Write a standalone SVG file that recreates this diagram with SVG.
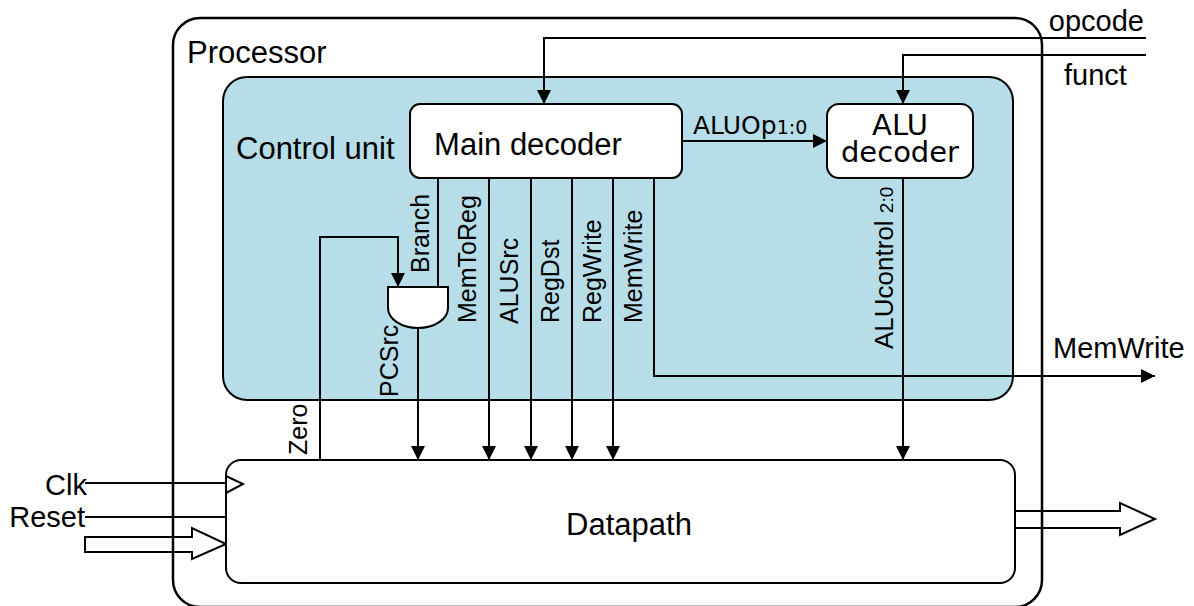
<svg xmlns="http://www.w3.org/2000/svg" width="1194" height="606" viewBox="0 0 1194 606">
  <style>
    .box { fill: #ffffff; stroke: #000000; stroke-width: 2; }
    .frame { fill: none; stroke: #000000; stroke-width: 2.5; }
    .cu { fill: #b6dde8; stroke: #000000; stroke-width: 2; }
    .wire { fill: none; stroke: #000000; stroke-width: 2; }
    .arr { fill: none; stroke: #000000; stroke-width: 2; marker-end: url(#head); }
    .bus { fill: none; stroke: #000000; stroke-width: 2; stroke-linejoin: miter; }
    .t { font-family: "Liberation Sans", Arial, sans-serif; fill: #000000; }
    .d { font-family: "DejaVu Sans", sans-serif; fill: #000000; }
    .lbl { font-size: 25px; }
    .big { font-size: 31px; }
    .sig { font-size: 29px; }
  </style>
  <defs>
    <marker id="head" markerUnits="userSpaceOnUse" viewBox="0 0 14 14" refX="14" refY="7" markerWidth="14" markerHeight="14" orient="auto">
      <path d="M0,0 L14,7 L0,14 Z" fill="#000000"/>
    </marker>
  </defs>

  <!-- processor background -->
  <rect x="173" y="18" width="869" height="589" rx="27" fill="#ffffff"/>

  <!-- control unit -->
  <g id="control-unit">
    <rect class="cu" x="223" y="77" width="790" height="323" rx="24"/>
    <text class="t big" x="236" y="159">Control unit</text>
  </g>

  <!-- connectors -->
  <g id="connectors">
    <!-- opcode into main decoder -->
    <path class="arr" d="M1146,38 H544 V104"/>
    <!-- funct into ALU decoder -->
    <path class="arr" d="M1146,55 H903 V104"/>
    <!-- ALUOp -->
    <path class="arr" d="M682,141 H827"/>
    <!-- Branch into AND gate -->
    <path class="wire" d="M438,178 V287"/>
    <!-- Zero from datapath into AND gate -->
    <path class="arr" d="M320,460 V237 H398 V287"/>
    <!-- PCSrc -->
    <path class="arr" d="M418,328 V460"/>
    <!-- control signals into datapath -->
    <path class="arr" d="M489,178 V460"/>
    <path class="arr" d="M531,178 V460"/>
    <path class="arr" d="M572,178 V460"/>
    <path class="arr" d="M613,178 V460"/>
    <!-- MemWrite out -->
    <path class="arr" d="M654,178 V376 H1155"/>
    <!-- ALUcontrol -->
    <path class="arr" d="M903,178 V460"/>
    <!-- Clk / Reset -->
    <path class="wire" d="M85,483 H226"/>
    <path class="wire" d="M85,517 H226"/>
    <!-- input bus -->
    <path class="bus" d="M85,537 H192 V528 L226,544 L192,559 V552 H85 Z"/>
    <!-- output bus -->
    <path class="bus" d="M1015,511 H1120 V503 L1155,519 L1120,535 V528 H1015"/>
  </g>

  <!-- processor frame -->
  <g id="processor">
    <rect class="frame" x="173" y="18" width="869" height="589" rx="27"/>
    <text class="t big" x="187" y="63">Processor</text>
  </g>

  <g id="main-decoder">
    <rect class="box" x="410" y="104" width="272" height="74" rx="10"/>
    <text class="t big" x="528" y="155" text-anchor="middle">Main decoder</text>
  </g>

  <g id="alu-decoder">
    <rect class="box" x="827" y="104" width="146" height="74" rx="12"/>
    <text class="d" x="900" y="135" font-size="29" text-anchor="middle">ALU</text>
    <text class="d" x="900" y="162" font-size="29" text-anchor="middle">decoder</text>
  </g>

  <g id="and-gate">
    <path class="box" d="M388,287 H448 V308 A30,20 0 0 1 388,308 Z"/>
  </g>

  <g id="datapath">
    <rect class="box" x="226" y="460" width="789" height="123" rx="15"/>
    <path class="wire" d="M226,476 L243,484 L226,493"/>
    <text class="t big" x="629" y="535" text-anchor="middle">Datapath</text>
  </g>

  <!-- signal labels -->
  <g id="labels">
    <text class="t sig" x="1144" y="31" text-anchor="end">opcode</text>
    <text class="t sig" x="1064" y="85">funct</text>
    <text class="d" x="693" y="134" font-size="25">ALUOp<tspan font-size="19">1:0</tspan></text>
    <text class="t sig" x="1053" y="358">MemWrite</text>
    <text class="t sig" x="87" y="495" text-anchor="end">Clk</text>
    <text class="t sig" x="85" y="527" text-anchor="end">Reset</text>
    <text class="t lbl" transform="translate(429,273) rotate(-90)">Branch</text>
    <text class="t lbl" transform="translate(476,323) rotate(-90)">MemToReg</text>
    <text class="t lbl" transform="translate(518,324) rotate(-90)">ALUSrc</text>
    <text class="t lbl" transform="translate(559,323) rotate(-90)">RegDst</text>
    <text class="t lbl" transform="translate(601,323) rotate(-90)">RegWrite</text>
    <text class="t lbl" transform="translate(642,323) rotate(-90)">MemWrite</text>
    <text class="t lbl" transform="translate(398,397) rotate(-90)">PCSrc</text>
    <text class="t lbl" transform="translate(307,455) rotate(-90)">Zero</text>
    <text class="t" font-size="26" transform="translate(893,349) rotate(-90)">ALUcontrol <tspan font-size="19">2:0</tspan></text>
  </g>
</svg>
